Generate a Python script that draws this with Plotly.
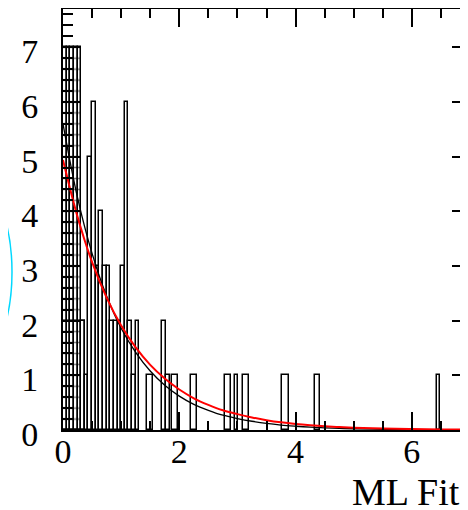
import plotly.graph_objects as go

# ---- histogram boxes (x in "ML Fit" units, height in entries)
bin_lo = [0.0, 0.0625, 0.125, 0.1875, 0.25, 0.3125, 0.375, 0.4375, 0.5, 0.5625,
          0.625, 0.6875, 0.75, 0.8125, 0.875, 0.9375, 1.0, 1.0625, 1.125, 1.1875,
          1.25, 1.44, 1.70, 1.77, 1.87, 2.20, 2.78, 2.95, 3.10, 3.77, 4.33, 6.44]
bin_hi = [0.0625, 0.125, 0.1875, 0.25, 0.3125, 0.375, 0.4375, 0.5, 0.5625, 0.625,
          0.6875, 0.75, 0.8125, 0.875, 0.9375, 1.0, 1.0625, 1.125, 1.1875, 1.25,
          1.3125, 1.55, 1.77, 1.84, 1.97, 2.31, 2.89, 3.01, 3.20, 3.88, 4.42, 6.49]
counts = [7, 7, 7, 7, 7, 2, 1, 5, 6, 3,
          4, 3, 3, 2, 2, 2, 3, 6, 2, 1,
          2, 1, 2, 1, 1, 1, 1, 1, 1, 1, 1, 1]
hatched = [True] * 5 + [False] * 27

# lower stacked component visible inside the first bins
lower_lo = [0.0]
lower_hi = [0.375]
lower_counts = [2]

# ---- fitted curves
fit_x = [0.0, 0.25, 0.5, 0.75, 1.0, 1.25, 1.5, 1.75, 2.0, 2.25, 2.5, 2.75, 3.0,
         3.25, 3.5, 3.75, 4.0, 4.25, 4.5, 4.75, 5.0, 5.5, 6.0, 6.5, 7.0]
fit_red = [4.94, 3.90, 3.07, 2.42, 1.91, 1.51, 1.19, 0.94, 0.74, 0.58, 0.46, 0.36, 0.29,
           0.23, 0.18, 0.14, 0.11, 0.087, 0.069, 0.054, 0.043, 0.027, 0.017, 0.010, 0.006]
fit_black = [5.6, 4.25, 3.23, 2.45, 1.86, 1.42, 1.08, 0.82, 0.62, 0.47, 0.36, 0.27, 0.21,
             0.16, 0.12, 0.09, 0.069, 0.052, 0.040, 0.030, 0.023, 0.013, 0.008, 0.004, 0.0025]

x_ticks = [0, 2, 4, 6]
y_ticks = [0, 1, 2, 3, 4, 5, 6, 7]
x_range = [0, 7.0]
y_range = [0, 7.7]

# the page body adds an 8 px offset; the figure is laid out so the frame lands where the
# reference shows it (right frame edge just outside the window)
W, H = 468, 510
OFF = 8
ML, MR, MT, MB = 55, 6, 1, 88
plot_w = W - ML - MR
plot_h = H - MT - MB
hatch_px = 0.2 * plot_h / (y_range[1] - y_range[0])


def px_x(sx):  # screen x -> paper x
    return (sx - OFF - ML) / plot_w


def px_y(sy):  # screen y -> paper y
    return (H - MB - (sy - OFF)) / plot_h


fig = go.Figure()

fig.add_trace(go.Bar(
    x=[(a + b) / 2 for a, b in zip(lower_lo, lower_hi)],
    width=[b - a for a, b in zip(lower_lo, lower_hi)],
    y=lower_counts,
    marker=dict(color="rgba(0,0,0,0)", line=dict(color="black", width=1.5)),
    showlegend=False, hoverinfo="skip",
))

fig.add_trace(go.Bar(
    x=[(a + b) / 2 for a, b in zip(bin_lo, bin_hi)],
    width=[b - a for a, b in zip(bin_lo, bin_hi)],
    y=counts,
    marker=dict(
        color="rgba(0,0,0,0)",
        line=dict(color="black", width=1.5),
        pattern=dict(shape=["-" if h else "" for h in hatched],
                     size=hatch_px, solidity=0.14,
                     fgcolor="black", bgcolor="rgba(0,0,0,0)"),
    ),
    showlegend=False, hoverinfo="skip",
))

fig.add_trace(go.Scatter(x=fit_x, y=fit_black, mode="lines", line_shape="spline",
                         line=dict(color="black", width=1.3), showlegend=False))
fig.add_trace(go.Scatter(x=fit_x, y=fit_red, mode="lines", line_shape="spline",
                         line=dict(color="#ff0000", width=2), showlegend=False))

tick_font = dict(family="Liberation Serif", size=34, color="black")

fig.update_layout(
    width=W, height=H,
    margin=dict(l=ML, r=MR, t=MT, b=MB, pad=0, autoexpand=False),
    paper_bgcolor="white", plot_bgcolor="white",
    barmode="overlay", bargap=0,
    xaxis=dict(range=x_range, tickvals=x_ticks, ticktext=[str(v) for v in x_ticks],
               automargin=False,
               showgrid=False, zeroline=False, showline=True, linecolor="black", linewidth=2,
               mirror="ticks", ticks="inside", ticklen=18, tickwidth=2, tickcolor="black",
               minor=dict(dtick=0.5, tick0=0, ticks="inside", ticklen=9, tickwidth=2,
                          tickcolor="black", showgrid=False),
               tickfont=tick_font, ticklabelstandoff=-10),
    yaxis=dict(range=y_range, tickvals=y_ticks, ticktext=[str(v) for v in y_ticks],
               automargin=False,
               showgrid=False, zeroline=False, showline=True, linecolor="black", linewidth=2,
               mirror="ticks", ticks="inside", ticklen=18, tickwidth=2, tickcolor="black",
               minor=dict(dtick=0.2, tick0=0, ticks="inside", ticklen=10, tickwidth=2,
                          tickcolor="black", showgrid=False),
               tickfont=tick_font, ticklabelstandoff=16, ticklabelshift=4),
    shapes=[
        dict(type="circle", xref="paper", yref="paper",
             x0=px_x(-92), x1=px_x(12), y0=px_y(377), y1=px_y(167),
             line=dict(color="#00d8ff", width=1.5)),
    ],
    annotations=[
        dict(text="ML Fit", xref="paper", yref="paper", x=px_x(350),
             y=px_y(469), xanchor="left", yanchor="top", showarrow=False,
             font=dict(family="Liberation Serif", size=38, color="black")),
    ],
)

fig.write_html("out.html")
